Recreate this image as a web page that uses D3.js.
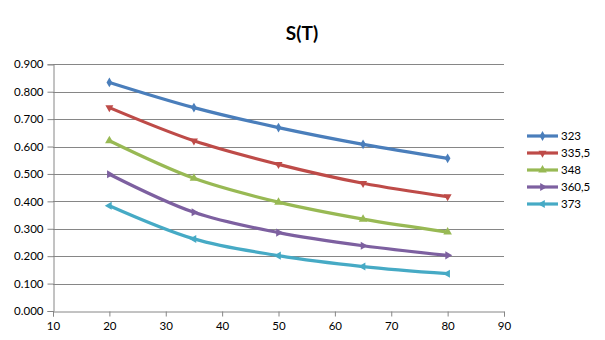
<!DOCTYPE html>
<html>
<head>
<meta charset="utf-8">
<script src="https://cdn.jsdelivr.net/npm/d3@7"></script>
<style>
  body { margin: 0; background: #fff; }
  svg { display: block; font-family: Lato, "Open Sans", sans-serif; }
</style>
</head>
<body>
<svg id="chart" width="605" height="340"></svg>
<script>
const xValues = [20, 35, 50, 65, 80];
const seriesNames = ["323", "335,5", "348", "360,5", "373"];
const s323   = [0.834, 0.742, 0.669, 0.608, 0.557];
const s335_5 = [0.742, 0.621, 0.535, 0.466, 0.417];
const s348   = [0.621, 0.484, 0.397, 0.335, 0.288];
const s360_5 = [0.499, 0.360, 0.286, 0.238, 0.203];
const s373   = [0.384, 0.263, 0.202, 0.162, 0.136];
const seriesValues = [s323, s335_5, s348, s360_5, s373];
const colors = ["#4A7EBB", "#BE4B48", "#98B954", "#7D60A0", "#46AAC5"];
const xTicks = [10, 20, 30, 40, 50, 60, 70, 80, 90];
const yTicks = [0, 0.1, 0.2, 0.3, 0.4, 0.5, 0.6, 0.7, 0.8, 0.9];
const title = "S(T)";

const svg = d3.select("#chart");
const x = d3.scaleLinear().domain([10, 90]).range([53, 504]);
const y = d3.scaleLinear().domain([0, 0.9]).range([311, 64.3]);
const grey = "#868686";

// title
svg.append("text").attr("x", 302).attr("y", 40).attr("text-anchor", "middle")
  .attr("font-size", 19).attr("font-weight", "bold").attr("fill", "#000").text(title);

// gridlines
svg.append("g").selectAll("line").data(yTicks.slice(1)).join("line")
  .attr("x1", x(10)).attr("x2", x(90))
  .attr("y1", d => Math.round(y(d)) + 0.5).attr("y2", d => Math.round(y(d)) + 0.5)
  .attr("stroke", grey).attr("stroke-width", 1);

// y axis
const yAxis = d3.axisLeft(y).tickValues(yTicks).tickFormat(d3.format(".3f")).tickSizeOuter(0).tickSize(6).tickPadding(4);
const gy = svg.append("g").attr("transform", `translate(${Math.round(x(10)) + 0.5},0)`).call(yAxis);
gy.select(".domain").attr("stroke", grey);
gy.selectAll(".tick line").attr("stroke", grey);
gy.selectAll(".tick text").attr("font-size", 11.5).attr("fill", "#000").attr("font-family", "Lato, sans-serif");

// x axis
const xAxis = d3.axisBottom(x).tickValues(xTicks).tickSizeOuter(0).tickSize(5).tickPadding(5);
const gx = svg.append("g").attr("transform", `translate(0,${Math.round(y(0)) + 0.5})`).call(xAxis);
gx.select(".domain").attr("stroke", grey);
gx.selectAll(".tick line").attr("stroke", grey);
gx.selectAll(".tick text").attr("font-size", 11.5).attr("fill", "#000").attr("font-family", "Lato, sans-serif");

// marker shapes
const markerDefs = [
  {type: d3.symbolDiamond, rot: 0, size: 28},
  {type: d3.symbolTriangle, rot: 180, size: 28},
  {type: d3.symbolTriangle, rot: 0, size: 32},
  {type: d3.symbolTriangle, rot: 90, size: 28},
  {type: d3.symbolTriangle, rot: -90, size: 28}
];

const line = d3.line().x(d => x(d[0])).y(d => y(d[1])).curve(d3.curveMonotoneX);

seriesValues.forEach((vals, i) => {
  const pts = xValues.map((xv, j) => [xv, vals[j]]);
  svg.append("path").datum(pts).attr("d", line)
    .attr("fill", "none").attr("stroke", colors[i]).attr("stroke-width", 3.2)
    .attr("stroke-linejoin", "round");
  const m = markerDefs[i];
  svg.append("g").selectAll("path").data(pts).join("path")
    .attr("d", d3.symbol().type(m.type).size(m.size))
    .attr("transform", d => `translate(${x(d[0])},${y(d[1])}) rotate(${m.rot})`)
    .attr("fill", colors[i]);
});

// legend
const lg = svg.append("g");
seriesNames.forEach((name, i) => {
  const ly = 136 + i * 17;
  lg.append("line").attr("x1", 527).attr("x2", 558).attr("y1", ly).attr("y2", ly)
    .attr("stroke", colors[i]).attr("stroke-width", 3.2);
  const m = markerDefs[i];
  lg.append("path").attr("d", d3.symbol().type(m.type).size(m.size))
    .attr("transform", `translate(542.5,${ly}) rotate(${m.rot})`).attr("fill", colors[i]);
  lg.append("text").attr("x", 561).attr("y", ly + 4).attr("font-size", 11.5)
    .attr("fill", "#000").text(name);
});
</script>
</body>
</html>
